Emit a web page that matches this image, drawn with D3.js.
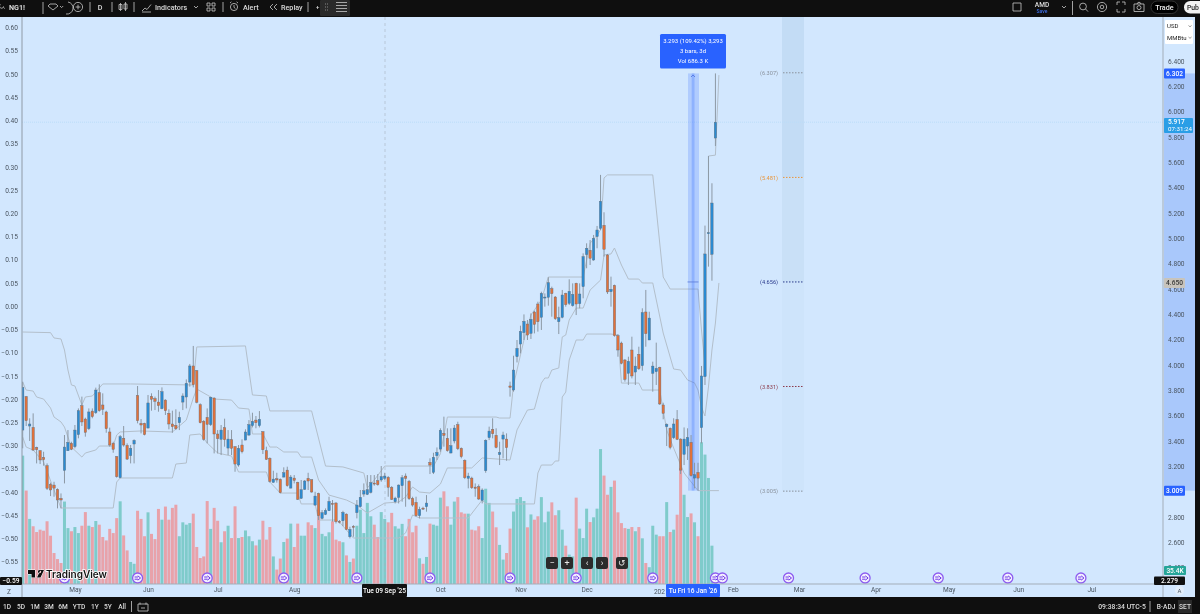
<!DOCTYPE html>
<html>
<head>
<meta charset="utf-8">
<style>
  body { margin: 0; background: #0f0f0f; overflow: hidden; }
  svg { display: block; font-family: Roboto, "Open Sans", sans-serif; filter: blur(0.3px); }
</style>
<script src="https://cdn.jsdelivr.net/npm/d3@7"></script>
</head>
<body>
<svg id="svg" width="1200" height="614"></svg>
<script>
// NG1! daily bars
const opens = [3.487,3.751,3.519,3.508,3.350,3.324,3.272,3.206,3.058,3.053,3.019,2.948,3.169,3.324,3.382,3.356,3.451,3.680,3.574,3.498,3.637,3.624,3.782,3.685,3.630,3.472,3.382,3.277,3.111,3.422,3.366,3.285,3.377,3.761,3.540,3.540,3.503,3.753,3.735,3.708,3.656,3.724,3.619,3.535,3.524,3.545,3.708,3.748,3.866,3.993,3.956,3.687,3.556,3.587,3.530,3.740,3.456,3.414,3.506,3.345,3.411,3.356,3.211,3.369,3.408,3.448,3.522,3.566,3.522,3.474,3.324,3.264,3.074,3.103,3.098,3.116,3.171,3.029,3.108,3.074,2.948,3.019,3.106,3.095,2.895,2.987,2.790,2.821,2.850,2.908,2.911,2.766,2.771,2.824,2.645,2.727,2.835,2.882,2.982,2.979,2.995,3.069,3.087,3.093,3.106,3.114,3.035,2.921,2.956,
  3.048,3.124,3.082,2.948,2.916,2.811,2.871,2.882,3.232,3.153,3.285,3.337,3.461,3.422,3.306,3.401,3.530,3.343,3.248,3.106,3.108,3.037,3.040,2.932,3.166,3.427,3.493,3.445,3.293,3.416,3.416,3.835,3.803,4.066,4.166,4.256,4.324,4.250,4.419,4.482,4.377,4.532,4.535,4.603,4.537,4.342,4.377,4.566,4.487,4.469,4.645,4.485,4.619,4.872,4.906,4.829,5.014,5.079,5.103,4.869,4.579,4.629,4.232,4.174,4.040,3.935,4.119,3.945,4.085,3.995,4.419,4.198,3.935,3.948,3.982,3.685,3.514,3.501,3.427,3.569,3.416,3.295,3.361,3.390,3.108,3.153,3.506,3.909,5.040,4.874,5.792];
const highs = [3.869,3.756,3.580,3.619,3.356,3.329,3.316,3.224,3.072,3.079,3.027,2.987,3.448,3.487,3.395,3.527,3.658,3.751,3.585,3.658,3.658,3.822,3.848,3.777,3.640,3.506,3.395,3.282,3.448,3.519,3.382,3.369,3.414,3.835,3.574,3.545,3.764,3.777,3.751,3.803,3.824,3.730,3.651,3.640,3.651,3.632,3.777,3.887,4.009,4.151,3.961,3.698,3.566,3.658,3.751,3.745,3.487,3.527,3.577,3.487,3.487,3.361,3.369,3.414,3.493,3.566,3.624,3.598,3.637,3.479,3.356,3.272,3.166,3.150,3.106,3.193,3.198,3.132,3.132,3.079,3.093,3.093,3.150,3.098,3.000,2.993,2.856,2.869,2.961,2.935,2.919,2.777,2.850,2.829,2.724,2.737,2.935,3.014,3.066,3.132,3.132,3.132,3.140,3.203,3.150,3.124,3.045,2.961,3.058,
  3.132,3.145,3.093,2.961,2.961,2.882,2.882,2.974,3.264,3.308,3.350,3.501,3.593,3.501,3.501,3.527,3.553,3.350,3.256,3.150,3.119,3.066,3.058,3.027,3.414,3.514,3.580,3.501,3.395,3.474,3.461,3.869,4.074,4.198,4.311,4.400,4.356,4.408,4.429,4.500,4.579,4.566,4.693,4.619,4.545,4.461,4.593,4.571,4.677,4.645,4.650,4.645,4.882,4.961,4.987,5.027,5.098,5.501,5.206,4.877,4.698,4.635,4.245,4.185,4.048,4.066,4.224,4.066,4.145,4.448,4.593,4.421,4.027,4.177,3.987,3.703,3.540,3.508,3.580,3.645,3.422,3.508,3.501,3.448,3.229,3.229,3.993,5.101,5.650,5.435,6.302];
const lows = [3.343,3.519,3.401,3.324,3.224,3.219,3.206,3.014,2.966,2.961,2.869,2.869,3.066,3.322,3.329,3.343,3.422,3.519,3.435,3.487,3.580,3.614,3.632,3.606,3.466,3.356,3.308,3.111,3.106,3.356,3.251,3.224,3.224,3.540,3.461,3.445,3.501,3.640,3.645,3.632,3.651,3.606,3.493,3.466,3.487,3.487,3.645,3.658,3.830,3.824,3.698,3.540,3.403,3.382,3.519,3.303,3.303,3.290,3.356,3.290,3.290,3.158,3.198,3.303,3.408,3.440,3.508,3.501,3.508,3.298,3.251,3.072,3.072,3.072,2.987,3.114,3.040,3.027,3.066,2.935,2.943,3.014,3.014,2.993,2.890,2.777,2.782,2.816,2.848,2.764,2.750,2.750,2.729,2.698,2.632,2.645,2.790,2.877,2.961,2.974,2.987,3.048,3.048,3.079,3.093,2.961,2.935,2.908,2.908,
  2.922,2.882,2.935,2.882,2.803,2.790,2.856,2.843,3.140,3.140,3.251,3.316,3.356,3.316,3.303,3.382,3.329,3.264,3.100,3.027,3.022,2.961,2.935,2.908,3.150,3.408,3.422,3.343,3.211,3.264,3.245,3.751,3.790,4.021,4.092,4.198,4.198,4.206,4.250,4.264,4.277,4.461,4.469,4.382,4.356,4.245,4.369,4.461,4.474,4.461,4.395,4.448,4.527,4.764,4.790,4.824,4.922,5.066,4.856,4.561,4.461,4.224,4.066,4.006,3.869,3.843,3.895,3.843,3.961,3.956,4.145,4.198,3.790,3.843,3.685,3.572,3.361,3.335,3.416,3.408,3.140,3.211,3.251,3.119,3.027,3.009,3.382,3.843,4.777,4.666,5.729];
const closes = [3.824,3.561,3.535,3.329,3.332,3.251,3.253,3.027,3.014,3.029,2.935,2.935,3.353,3.390,3.335,3.487,3.640,3.551,3.469,3.630,3.593,3.803,3.640,3.651,3.498,3.369,3.335,3.119,3.435,3.369,3.258,3.343,3.406,3.561,3.527,3.451,3.701,3.730,3.714,3.680,3.790,3.640,3.535,3.514,3.498,3.587,3.756,3.856,3.993,3.845,3.706,3.545,3.414,3.532,3.745,3.456,3.419,3.487,3.411,3.416,3.343,3.219,3.343,3.316,3.472,3.530,3.556,3.545,3.572,3.332,3.256,3.082,3.100,3.093,2.993,3.150,3.048,3.116,3.090,2.940,3.016,3.085,3.085,2.998,2.966,2.811,2.835,2.853,2.924,2.900,2.764,2.761,2.837,2.703,2.703,2.721,2.895,2.956,3.008,3.016,3.072,3.061,3.056,3.119,3.124,3.035,2.940,2.950,3.053,
  3.111,3.106,2.945,2.895,2.811,2.861,2.864,2.911,3.211,3.272,3.311,3.485,3.445,3.324,3.364,3.503,3.340,3.277,3.111,3.124,3.032,3.027,2.943,3.014,3.406,3.479,3.458,3.350,3.311,3.448,3.348,3.824,3.961,4.132,4.266,4.345,4.237,4.361,4.321,4.342,4.566,4.537,4.650,4.564,4.366,4.374,4.553,4.477,4.582,4.558,4.482,4.561,4.856,4.922,4.843,5.000,5.066,5.293,4.914,4.577,4.598,4.232,4.119,4.014,3.887,4.029,3.914,3.992,3.971,4.414,4.248,4.371,3.992,3.974,3.693,3.619,3.532,3.350,3.535,3.414,3.171,3.416,3.429,3.127,3.135,3.108,3.914,4.877,5.045,5.279,5.917];
const volumes = [489,356,248,220,198,207,203,239,184,118,95,80,314,213,201,217,194,222,274,222,217,240,226,179,166,210,194,251,315,185,128,84,77,279,248,182,273,191,171,286,245,295,245,290,302,182,235,226,232,268,141,99,105,316,210,290,241,159,201,222,175,296,175,179,204,182,163,147,169,241,169,217,105,55,97,160,173,230,141,230,184,184,235,224,213,283,191,182,197,239,169,163,159,109,84,97,222,283,194,309,258,226,179,274,248,235,271,220,211,
  229,182,248,197,222,98,77,103,230,226,222,329,353,296,226,314,331,273,268,268,207,204,220,175,363,309,276,216,149,93,118,211,276,324,331,316,216,265,245,258,331,235,276,311,262,281,207,146,112,105,329,211,175,287,236,254,287,514,413,340,370,394,273,232,213,210,217,201,217,174,80,64,222,188,182,182,312,198,207,264,442,340,255,269,235,182,540,493,404,146,35.4];

// band lines, [bar, price] pairs where the line visibly turns
const upperBand = [[0,4.261],[8,4.256],[9,4.214],[11,4.206],[12,4.119],[13,3.961],[14,3.843],[15,3.835],[17,3.685],[18,3.748],[20,3.756],[23,3.851],[31,3.851],[49,3.843],[50,4.143],[64,4.151],[66,3.764],[70,3.756],[71,3.638],[83,3.638],[87,3.203],[92,3.196],[98,3.148],[99,3.030],[101,3.093],[104,3.203],[118,3.203],[120,3.300],[122,3.590],[136,3.590],[137,3.582],[140,3.582],[141,3.843],[142,3.961],[144,4.198],[146,4.395],[149,4.514],[151,4.695],[161,4.695],[163,4.961],[165,5.027],[166,5.066],[167,5.477],[168,5.501],[181,5.501],[184,4.695],[186,4.600],[194,4.600],[195,4.277],[196,4.001]];
const upperBandTail = [[197,5.650],[199,5.657],[200,6.289]];
const midBand = [[0,3.866],[1,3.803],[3,3.795],[4,3.748],[6,3.732],[8,3.661],[9,3.590],[11,3.551],[12,3.511],[13,3.432],[14,3.353],[17,3.274],[18,3.306],[21,3.330],[22,3.361],[26,3.361],[27,3.448],[28,3.472],[34,3.480],[43,3.472],[47,3.566],[49,3.740],[50,3.811],[53,3.764],[55,3.732],[60,3.724],[62,3.661],[65,3.653],[66,3.456],[69,3.456],[71,3.353],[73,3.353],[75,3.314],[79,3.314],[80,3.274],[83,3.274],[85,3.093],[88,2.974],[93,2.935],[96,2.895],[99,2.832],[104,2.911],[108,2.919],[110,2.959],[112,3.038],[114,2.998],[117,2.990],[120,3.061],[122,3.188],[129,3.188],[132,3.267],[140,3.251],[142,3.488],[145,3.645],[147,3.653],[149,3.858],[150,3.898],[151,3.898],[152,3.961],[154,3.977],[155,4.222],[156,4.237],[157,4.356],[159,4.450],[161,4.450],[163,4.592],[166,4.671],[167,4.869],[169,4.877],[170,4.924],[172,4.790],[174,4.679],[177,4.679],[178,4.648],[181,4.648],[184,4.253],[187,3.969],[189,3.961],[191,3.882],[193,3.859],[194,3.803],[195,3.669],[196,3.598],[197,3.827],[198,4.119],[199,4.332],[200,4.648]];
const lowerBand = [[0,3.432],[1,3.353],[3,3.330],[6,3.235],[9,3.014],[11,2.872],[26,2.872],[27,3.077],[28,3.109],[43,3.109],[44,3.219],[47,3.227],[48,3.448],[51,3.456],[53,3.385],[56,3.306],[60,3.282],[62,3.156],[70,3.156],[71,3.077],[74,2.990],[79,2.990],[80,2.904],[84,2.904],[85,2.777],[90,2.777],[91,2.761],[95,2.635],[108,2.635],[110,2.675],[112,2.817],[114,2.793],[128,2.793],[132,2.935],[133,2.904],[147,2.904],[148,3.148],[149,3.211],[152,3.211],[153,3.243],[154,3.243],[155,3.748],[156,3.787],[157,4.040],[159,4.198],[161,4.198],[162,4.245],[169,4.245],[171,4.237],[172,3.858],[177,3.858],[178,3.803],[183,3.803],[185,3.488],[187,3.345],[190,3.148],[194,3.009],[200,3.009]];

const priceTicks = [6.4,6.2,6.0,5.8,5.6,5.4,5.2,5.0,4.8,4.6,4.4,4.2,4.0,3.8,3.6,3.4,3.2,3.0,2.8,2.6,2.4];
const pctTicks = [0.60,0.55,0.50,0.45,0.40,0.35,0.30,0.25,0.20,0.15,0.10,0.05,0,-0.05,-0.10,-0.15,-0.20,-0.25,-0.30,-0.35,-0.40,-0.45,-0.50,-0.55];
const timeBars = [15,36,56,78,120,143,162,204,223,245,266,286,307];
const timeLabels = ["May","Jun","Jul","Aug","Oct","Nov","Dec","Feb","Mar","Apr","May","Jun","Jul"];
const markerBars = [12,33,53,75,96,117,140,159,181,199,201,220,242,263,283,304];
const levelPrices = [6.307,5.481,4.656,3.831,3.005];
const levelColors = ["#8a929c","#e8963c","#2a3a8c","#8c3a4a","#8a929c"];
const rangeButtons = ["1D","5D","1M","3M","6M","YTD","1Y","5Y","All"];

let svg = d3.select("svg");

let x = d3.scaleLinear().domain([0, 100]).range([22.7, 370.8]);
let y = d3.scaleLinear().domain([6.4, 2.4]).range([61, 567.8]);
let yPct = d3.scaleLinear().domain([0.6, -0.55]).range([27.6, 561.7]);
let yVol = d3.scaleLinear().domain([0, 1000]).range([584, 321.5]);

// backgrounds
svg.append("rect").attr("width", 1200).attr("height", 614).attr("fill", "#0f0f0f");
svg.append("rect").attr("x", 0).attr("y", 17).attr("width", 1195).attr("height", 580).attr("fill", "#d2e7fe");

let defs = svg.append("defs");
defs.append("clipPath").attr("id", "plot").append("rect")
  .attr("x", 22).attr("y", 17).attr("width", 1141).attr("height", 567);

let plot = svg.append("g").attr("clip-path", "url(#plot)");

// target band on the right
plot.append("rect").attr("x", 782).attr("y", 17).attr("width", 22).attr("height", y(5.481) - 17).attr("fill", "#c3dcf5");
plot.append("rect").attr("x", 782).attr("y", y(5.481)).attr("width", 22).attr("height", y(4.656) - y(5.481)).attr("fill", "#c9e0f7");
plot.append("rect").attr("x", 782).attr("y", y(4.656)).attr("width", 22).attr("height", y(3.005) - y(4.656)).attr("fill", "#cee4fb");

// volume
let barsData = opens.map((o, i) => ({ i, o, h: highs[i], l: lows[i], c: closes[i], v: volumes[i] }));
plot.selectAll("rect.vol").data(barsData).enter().append("rect")
  .attr("class", "vol")
  .attr("x", d => x(d.i) - 1.5)
  .attr("width", 3)
  .attr("y", d => yVol(d.v))
  .attr("height", d => yVol(0) - yVol(d.v))
  .attr("fill", d => d.c >= d.o ? "#7fcbcb" : "#e8a2aa");

// channel lines
let bandLine = d3.line().x(d => x(d[0])).y(d => y(d[1]));
[upperBand, upperBandTail, midBand, lowerBand].forEach(band => {
  plot.append("path")
    .datum(band)
    .attr("fill", "none")
    .attr("stroke", "#b3bfcb")
    .attr("stroke-width", 1)
    .attr("stroke-linejoin", "round")
    .attr("d", bandLine);
});

// last price and crosshair
plot.append("line").attr("x1", 22).attr("x2", 1163).attr("y1", y(5.917)).attr("y2", y(5.917))
  .attr("stroke", "#bcdcf8").attr("stroke-width", 1).attr("stroke-dasharray", "1 1");
plot.append("line").attr("x1", 385).attr("x2", 385).attr("y1", 17).attr("y2", 584)
  .attr("stroke", "#a8b4c0").attr("stroke-width", 0.6).attr("stroke-dasharray", "3 3");

// measure tool under the candles
plot.append("rect").attr("x", 688).attr("y", y(6.302)).attr("width", 11).attr("height", y(3.009) - y(6.302)).attr("fill", "#2962ff").attr("opacity", 0.2);
plot.append("rect").attr("x", 691.7).attr("y", y(6.302)).attr("width", 2.8).attr("height", y(3.009) - y(6.302)).attr("fill", "#2962ff").attr("opacity", 0.25);
plot.append("line").attr("x1", 687.5).attr("x2", 698.5).attr("y1", y(4.656)).attr("y2", y(4.656)).attr("stroke", "#5a78d8").attr("stroke-width", 0.8);

// candles
plot.selectAll("line.wick").data(barsData).enter().append("line")
  .attr("class", "wick")
  .attr("x1", d => x(d.i)).attr("x2", d => x(d.i))
  .attr("y1", d => y(d.h)).attr("y2", d => y(d.l))
  .attr("stroke", "#8c98a4").attr("stroke-width", 1);
plot.selectAll("rect.body").data(barsData).enter().append("rect")
  .attr("class", "body")
  .attr("x", d => x(d.i) - 1.2)
  .attr("width", 2.4)
  .attr("y", d => y(Math.max(d.o, d.c)))
  .attr("height", d => Math.max(1, Math.abs(y(d.o) - y(d.c))))
  .attr("fill", d => d.c >= d.o ? "#2b8bd2" : "#e2713a")
  .attr("stroke", "#5f6b78").attr("stroke-width", 0.4);

// level lines
levelPrices.forEach((p, i) => {
  plot.append("line").attr("x1", 783).attr("x2", 804).attr("y1", y(p)).attr("y2", y(p))
    .attr("stroke", levelColors[i]).attr("stroke-width", 1).attr("stroke-dasharray", "1.5 1.5");
  plot.append("text").attr("x", 778).attr("y", y(p) + 2.3).attr("text-anchor", "end")
    .attr("font-size", 5.6).attr("fill", levelColors[i]).text("(" + p.toFixed(3) + ")");
});

// markers on the time scale
let markers = plot.selectAll("g.marker").data(markerBars).enter().append("g")
  .attr("class", "marker")
  .attr("transform", d => "translate(" + x(d) + ",578)");
markers.append("circle").attr("r", 5).attr("fill", "#f4f0ff").attr("stroke", "#8c5cf0").attr("stroke-width", 1.3);
markers.append("path").attr("d", "M-3,-1 H0.4 M-3,1.2 H0.4 M0.2,-2.2 L3,0 L0.2,2.2")
  .attr("fill", "none").attr("stroke", "#6d38e6").attr("stroke-width", 1);

// tradingview logo
let logo = svg.append("g").attr("transform", "translate(28,570)");
logo.append("path").attr("d", "M0,0 H7 V7.5 H3.5 V4 H0 Z M11.5,0 A1.6,1.6 0 1 0 11.6,0 M9,7.5 L12.5,0 H16 L12.5,7.5 Z")
  .attr("fill", "#0f0f0f").attr("stroke", "#fff").attr("stroke-width", 1).attr("paint-order", "stroke");
logo.append("text").attr("x", 18).attr("y", 8).attr("font-family", "Inter, Roboto, sans-serif")
  .attr("font-size", 10).attr("font-weight", 600).attr("fill", "#111")
  .attr("stroke", "#fff").attr("stroke-width", 1.6).attr("paint-order", "stroke").text("TradingView");

// zoom buttons
[[552, "−"], [567, "+"], [587, "‹"], [602, "›"], [622, "↺"]].forEach(b => {
  svg.append("rect").attr("x", b[0] - 6).attr("y", 557).attr("width", 12).attr("height", 12).attr("rx", 2).attr("fill", "#2b2b2b");
  svg.append("text").attr("x", b[0]).attr("y", 566).attr("text-anchor", "middle")
    .attr("font-size", 9).attr("fill", "#e8e8e8").text(b[1]);
});

// separators
svg.append("line").attr("x1", 22).attr("x2", 22).attr("y1", 17).attr("y2", 597).attr("stroke", "#8f9aa6");
svg.append("line").attr("x1", 1163).attr("x2", 1163).attr("y1", 17).attr("y2", 597).attr("stroke", "#a3adb8");
svg.append("line").attr("x1", 0).attr("x2", 1163).attr("y1", 584).attr("y2", 584).attr("stroke", "#a3adb8");

// highlighted range on price scale
svg.append("rect").attr("x", 1164).attr("y", y(6.302)).attr("width", 31).attr("height", y(3.009) - y(6.302)).attr("fill", "#a9c8fb");

// axes
let axisRight = d3.axisRight(y).tickValues(priceTicks).tickFormat(d3.format(".3f")).tickSize(0).tickPadding(0);
let rightG = svg.append("g").attr("transform", "translate(1168,0)").call(axisRight);
rightG.select(".domain").remove();
rightG.selectAll("text").attr("font-size", 6.6).attr("fill", "#4a5560").attr("font-family", "Roboto, sans-serif");

let axisLeft = d3.axisLeft(yPct).tickValues(pctTicks).tickFormat(d3.format(".2f")).tickSize(0).tickPadding(0);
let leftG = svg.append("g").attr("transform", "translate(18,0)").call(axisLeft);
leftG.select(".domain").remove();
leftG.selectAll("text").attr("font-size", 6.6).attr("fill", "#4a5560").attr("font-family", "Roboto, sans-serif");

let axisBottom = d3.axisBottom(x).tickValues(timeBars).tickFormat((d, i) => timeLabels[i]).tickSize(0).tickPadding(0);
let bottomG = svg.append("g").attr("transform", "translate(0,587)").call(axisBottom);
bottomG.select(".domain").remove();
bottomG.selectAll("text").attr("font-size", 6.6).attr("fill", "#4a5560").attr("font-family", "Roboto, sans-serif");

svg.append("text").attr("x", 9).attr("y", 593.5).attr("text-anchor", "middle").attr("font-size", 6.6).attr("fill", "#4a5560").text("Z");
svg.append("text").attr("x", 665).attr("y", 593.5).attr("text-anchor", "end").attr("font-size", 6.6).attr("fill", "#4a5560").text("202");

// axis tags
function tag(px, py, w, h, fill, color, text, size) {
  svg.append("rect").attr("x", px).attr("y", py).attr("width", w).attr("height", h).attr("rx", 1).attr("fill", fill);
  svg.append("text").attr("x", px + w / 2).attr("y", py + h / 2 + 2.4).attr("text-anchor", "middle")
    .attr("font-size", size || 6.6).attr("font-weight", 500).attr("fill", color).text(text);
}
tag(1164, y(6.302) - 5, 21, 10, "#2962ff", "#fff", "6.302");
tag(1164, 118, 29, 15, "#2a9ee6", "#fff", "");
svg.append("text").attr("x", 1168).attr("y", 124).attr("font-size", 6.6).attr("font-weight", 500).attr("fill", "#fff").text("5.917");
svg.append("text").attr("x", 1168).attr("y", 131).attr("font-size", 6.2).attr("fill", "#fff").text("07:31:24");
tag(1164, 278, 21, 10, "#c8c4bc", "#3a3a3a", "4.650");
tag(1164, y(3.009) - 5, 21, 10, "#2962ff", "#fff", "3.009");
tag(1164, 566, 22, 9, "#26a69a", "#fff", "35.4K");
tag(1154, 576.5, 31, 8.5, "#111", "#fff", "2.279");
tag(0, 577, 22, 8, "#111", "#fff", "−0.59");
svg.append("rect").attr("x", 1175).attr("y", 586).attr("width", 9).attr("height", 9).attr("rx", 4.5).attr("fill", "#e2eefb");
svg.append("text").attr("x", 1179.5).attr("y", 593).attr("text-anchor", "middle").attr("font-size", 6).attr("fill", "#4a5560").text("A");

tag(362, 584, 45, 13, "#111", "#fff", "Tue 09 Sep '25");
tag(666, 584, 54, 13, "#2962ff", "#fff", "Tu  Fri 16 Jan '26");

// measure tooltip
svg.append("rect").attr("x", 660).attr("y", 34).attr("width", 66).attr("height", 34.5).attr("rx", 1.5).attr("fill", "#2962ff");
["3.293 (109.42%) 3,293", "3 bars, 3d", "Vol 686.3 K"].forEach((t, i) => {
  svg.append("text").attr("x", 693).attr("y", 42.5 + i * 10).attr("text-anchor", "middle")
    .attr("font-size", 6).attr("fill", "#fff").text(t);
});
svg.append("path").attr("d", "M691,77 L693,75 L695,77").attr("fill", "none").attr("stroke", "#4a70e0").attr("stroke-width", 0.8);

// currency dropdown
svg.append("rect").attr("x", 1165).attr("y", 20).attr("width", 28).attr("height", 24).attr("rx", 1).attr("fill", "#fff");
svg.append("text").attr("x", 1167).attr("y", 28).attr("font-size", 6).attr("fill", "#222").text("USD");
svg.append("text").attr("x", 1167).attr("y", 40).attr("font-size", 6).attr("fill", "#222").text("MMBtu");
svg.append("path").attr("d", "M1188.5,25.5 l1.5,1.3 l1.5,-1.3 M1188.5,37 l1.5,1.3 l1.5,-1.3").attr("fill", "none").attr("stroke", "#555").attr("stroke-width", 0.6);

// top toolbar
function barText(px, py, t, opts) {
  opts = opts || {};
  svg.append("text").attr("x", px).attr("y", py).attr("font-size", opts.size || 7.2)
    .attr("font-weight", opts.weight || 500).attr("text-anchor", opts.anchor || "start")
    .attr("fill", opts.color || "#dcdcdc").text(t);
}
function icon(d, sw) {
  svg.append("path").attr("d", d).attr("fill", "none").attr("stroke", "#c8c8c8").attr("stroke-width", sw || 0.8);
}
barText(9, 9.5, "NG1!", { weight: 700 });
icon("M0.5,4.5 a2,2 0 1 0 3,2 M3.2,7 l1.6,1.6");
icon("M43,2 V14 M50,4 h6 l2,2 l-5,4 l-5,-4 z M60,6 l1.6,1.6 l1.6,-1.6 M68,1 h0 M66,14 a6,6 0 0 0 2,-12");
svg.append("circle").attr("cx", 78).attr("cy", 7).attr("r", 4.6).attr("fill", "none").attr("stroke", "#c8c8c8").attr("stroke-width", 0.8);
icon("M75.6,7 h4.8 M78,4.6 v4.8");
icon("M90,2 V12 M112,2 V12 M134,2 V12 M223,2 V12 M308,2 V12");
barText(100, 9.5, "D", { anchor: "middle" });
icon("M120.5,3 v8 M119,4.5 h3 v5 h-3 z M125.5,2 v9 M124,4 h3 v5 h-3 z");
icon("M142,11 l3,-3 l2,1.5 l4,-5 M142,12 h9");
barText(155, 9.5, "Indicators");
icon("M194,6 l2,2 l2,-2");
icon("M207,3 h3 v3 h-3 z M212,3 h3 v3 h-3 z M207,8 h3 v3 h-3 z M212,8 h3 v3 h-3 z");
svg.append("circle").attr("cx", 234).attr("cy", 7).attr("r", 3.6).attr("fill", "none").attr("stroke", "#c8c8c8").attr("stroke-width", 0.8);
icon("M230,3 l1.4,-1.2 M238,3 l-1.4,-1.2 M234,5 v2.4 l1.4,1");
barText(243, 9.5, "Alert");
icon("M273,4 l-3,3 l3,3 M277,4 l-3,3 l3,3");
barText(281, 9.5, "Replay");
barText(316, 9, "+", { size: 6 });
svg.append("rect").attr("x", 320).attr("y", 0).attr("width", 30).attr("height", 16).attr("rx", 1).attr("fill", "#2a2a2a");
icon("M336,2.5 h11 M336,5.5 h11 M336,8.5 h11 M336,11.5 h11");
icon("M325,4 h0.6 M327,4 h0.6 M325,7 h0.6 M327,7 h0.6 M325,10 h0.6 M327,10 h0.6", 1);

icon("M1013,3 h8 v8 h-8 z");
barText(1042, 7, "AMD", { anchor: "middle", size: 6.6 });
barText(1042, 13, "Save", { anchor: "middle", size: 5, color: "#3d6fe8" });
icon("M1062,6 l2,2 l2,-2 M1072.5,1 v14");
svg.append("circle").attr("cx", 1083).attr("cy", 6.5).attr("r", 3.4).attr("fill", "none").attr("stroke", "#c8c8c8").attr("stroke-width", 0.8);
icon("M1085.6,9 l2.4,2.6");
svg.append("circle").attr("cx", 1102).attr("cy", 7).attr("r", 4.6).attr("fill", "none").attr("stroke", "#c8c8c8").attr("stroke-width", 0.8);
svg.append("circle").attr("cx", 1102).attr("cy", 7).attr("r", 1.8).attr("fill", "none").attr("stroke", "#c8c8c8").attr("stroke-width", 0.8);
icon("M1117,5 v-3 h3 M1125,5 v-3 h-3 M1117,9 v3 h3 M1125,9 v3 h-3");
icon("M1134,4 h10 v7.5 h-10 z M1137,4 l1,-1.6 h2 l1,1.6");
svg.append("circle").attr("cx", 1139).attr("cy", 7.6).attr("r", 2).attr("fill", "none").attr("stroke", "#c8c8c8").attr("stroke-width", 0.8);
svg.append("rect").attr("x", 1151).attr("y", 1).attr("width", 27).attr("height", 12.5).attr("rx", 6.2).attr("fill", "#000").attr("stroke", "#333");
barText(1164.5, 9.5, "Trade", { anchor: "middle", color: "#eee" });
svg.append("rect").attr("x", 1184).attr("y", 1).attr("width", 22).attr("height", 12.5).attr("rx", 6.2).attr("fill", "#f2f2f2");
barText(1187, 9.5, "Pub", { color: "#222", size: 6.8 });

// bottom bar
[7, 21, 35, 49, 63, 79, 95, 108, 122].forEach((px, i) => {
  barText(px, 609, rangeButtons[i], { anchor: "middle", size: 6.6 });
});
icon("M131.5,601 v11 M138,604 h10 v7 h-10 z M140,602.5 v2 M146,602.5 v2 M141,608 h4");
barText(1122, 609, "09:38:34 UTC-5", { anchor: "middle", size: 6.8 });
icon("M1150,601 v11");
barText(1166, 609, "B-ADJ", { anchor: "middle", size: 6.6 });
svg.append("rect").attr("x", 1178).attr("y", 600).attr("width", 14).attr("height", 13).attr("fill", "#2a2a2a");
barText(1185, 609, "SET", { anchor: "middle", size: 6.6 });
</script>
</body>
</html>
